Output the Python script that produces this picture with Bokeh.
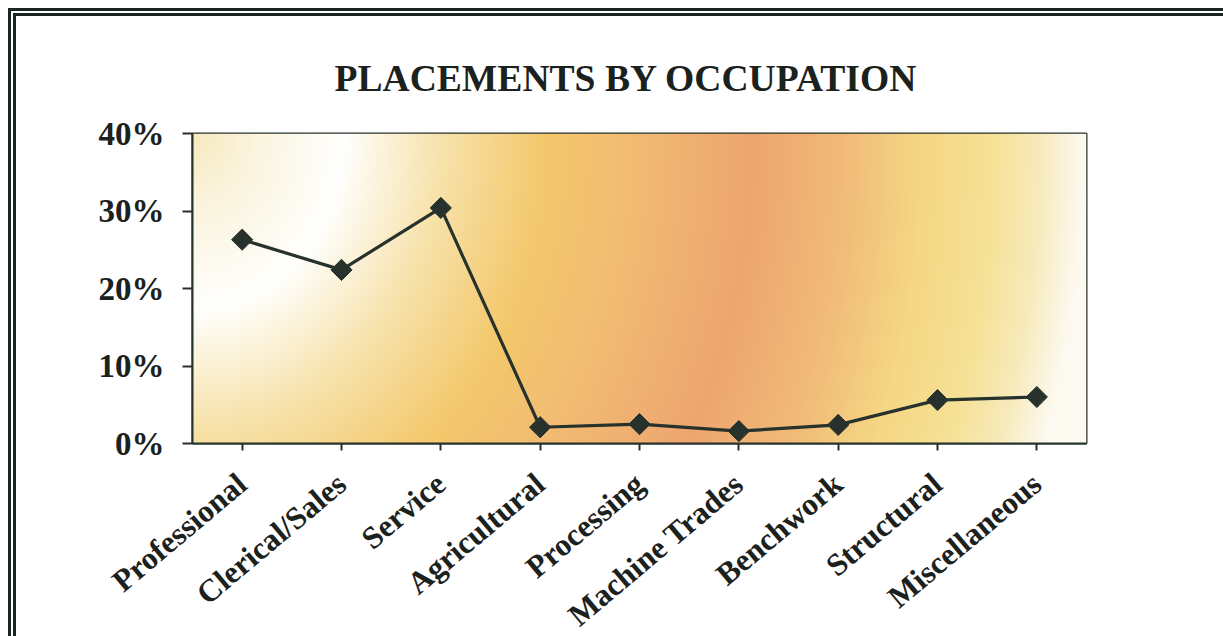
import numpy as np
from bokeh.plotting import figure
from bokeh.models import FactorRange, Range1d, FixedTicker, PrintfTickFormatter, Title
from bokeh.embed import file_html
from bokeh.resources import INLINE

categories = ["Professional", "Clerical/Sales", "Service", "Agricultural", "Processing",
              "Machine Trades", "Benchwork", "Structural", "Miscellaneous"]
placements = [26.3, 22.4, 30.4, 2.1, 2.5, 1.6, 2.4, 5.6, 6.0]
y_ticks = [0, 10, 20, 30, 40]

DARK = "#26322b"
FONT = "Liberation Serif"

FW, FH = 894, 310
p = figure(x_range=FactorRange(*categories, range_padding=0),
           y_range=Range1d(0, 40),
           width=1207, height=620, frame_width=FW, frame_height=FH,
           min_border_left=176, min_border_right=137, min_border_top=117, min_border_bottom=193,
           output_backend="svg", toolbar_location=None)
p.styles = {"border-top": "8px double #1c241f", "border-left": "8px double #1c241f",
            "margin-left": "8px", "margin-top": "8px"}

xaxis = p.below[0]
yaxis = p.left[0]

title = Title(text="PLACEMENTS BY OCCUPATION", text_font=FONT, text_font_style="bold",
              text_font_size="37.6px", text_color="#1b211d", align="left", offset=142,
              standoff=70)
p.add_layout(title, "above")

# background gradient for the plot area (styling only)
xx = np.arange(FW)[None, :].astype(float)
yy = np.arange(FH)[:, None].astype(float)
t = np.sqrt(xx ** 2 + (0.85 * yy) ** 2)
stops_t = [0, 60, 150, 250, 352, 425, 560, 650, 730, 800, 850, 880, 894, 1100]
stops_c = [(247, 234, 190), (251, 244, 222), (255, 255, 253), (247, 226, 170), (244, 200, 108),
           (242, 190, 115), (238, 166, 112), (241, 186, 120), (245, 215, 132), (246, 225, 150),
           (248, 236, 190), (251, 246, 228), (253, 250, 242), (253, 250, 242)]
img = np.zeros((FH, FW), dtype=np.uint32)
view = img.view(dtype=np.uint8).reshape((FH, FW, 4))
for ch in range(3):
    view[:, :, ch] = np.interp(t, stops_t, [c[ch] for c in stops_c]).astype(np.uint8)
view[:, :, 3] = 255
img = img[::-1]
p.image_rgba(image=[img], x=0, y=0, dw=len(categories), dh=y_ticks[-1])

p.line(categories, placements, line_color=DARK, line_width=3.2)
p.scatter(categories, placements, marker="square", angle=np.pi / 4, size=15,
          fill_color=DARK, line_color=DARK)

p.xgrid.visible = False
p.ygrid.visible = False
p.background_fill_color = "white"
p.outline_line_color = DARK
p.outline_line_width = 2

yaxis.ticker = FixedTicker(ticks=y_ticks)
yaxis.formatter = PrintfTickFormatter(format="%d%%")
for ax in (xaxis, yaxis):
    ax.axis_line_color = DARK
    ax.axis_line_width = 2
    ax.major_tick_line_color = DARK
    ax.major_tick_line_width = 2
    ax.major_tick_in = 0
    ax.minor_tick_line_color = None
    ax.major_label_text_font = FONT
    ax.major_label_text_font_style = "bold"
    ax.major_label_text_color = "#1b211d"
yaxis.major_tick_out = 10
yaxis.major_label_standoff = 18
yaxis.major_label_text_font_size = "33px"
xaxis.major_tick_out = 7
xaxis.major_label_standoff = 29
xaxis.major_label_text_font_size = "31.5px"
xaxis.major_label_orientation = 0.70

open("out.html", "w").write(file_html(p, INLINE))
